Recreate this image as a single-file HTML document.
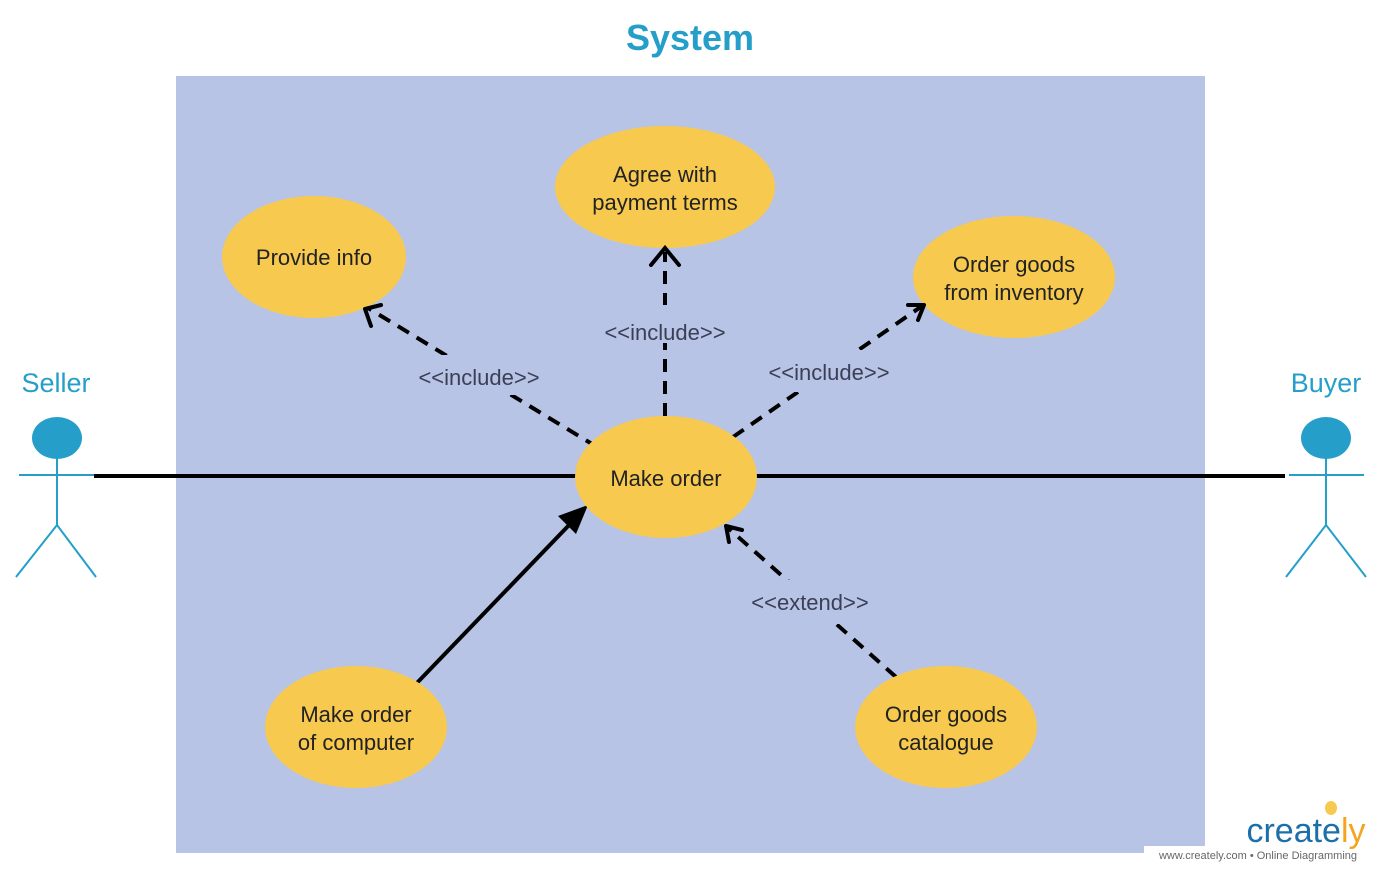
<!DOCTYPE html>
<html><head><meta charset="utf-8"><style>
html,body{margin:0;padding:0;background:#fff;}
svg{display:block;}
text{font-family:"Liberation Sans",sans-serif;}
</style></head><body>
<svg width="1380" height="871" viewBox="0 0 1380 871" xmlns="http://www.w3.org/2000/svg">
<rect width="1380" height="871" fill="#fff"/>
<text x="690" y="50" text-anchor="middle" font-size="36" font-weight="bold" fill="#259fca">System</text>
<rect x="176" y="76" width="1029" height="777" fill="#b8c4e6"/>
<rect x="1144" y="846" width="236" height="25" fill="#fff"/>

<g stroke="#000" stroke-width="4" fill="none">
<line x1="94" y1="476" x2="580" y2="476"/>
<line x1="750" y1="476" x2="1285" y2="476"/>
<line x1="414" y1="686" x2="572" y2="522"/>
<g stroke-dasharray="13,9">
<line x1="665" y1="416" x2="665" y2="252"/>
<line x1="597" y1="447" x2="368" y2="308"/>
<line x1="733" y1="437" x2="922" y2="306"/>
<line x1="896" y1="677" x2="727" y2="527"/>
</g>
</g>
<polygon points="588,505 558,516 576,534" fill="#000"/>

<g fill="#f7c94f">
<ellipse cx="665" cy="187" rx="110" ry="61"/>
<ellipse cx="314" cy="257" rx="92" ry="61"/>
<ellipse cx="1014" cy="277" rx="101" ry="61"/>
<ellipse cx="666" cy="477" rx="91" ry="61"/>
<ellipse cx="356" cy="727" rx="91" ry="61"/>
<ellipse cx="946" cy="727" rx="91" ry="61"/>
</g>

<g stroke="#000" stroke-width="4" fill="none" stroke-linecap="round">
<path d="M651,265 Q665,248 665,248 Q665,248 679,265"/>
<path d="M365,309 L381,305 M365,309 L371,326" />
<path d="M924,305 L908,305 M924,305 L918,320"/>
<path d="M726,526 L742,530 M726,526 L729,542"/>
</g>

<g fill="#b8c4e6">
<rect x="598" y="305" width="134" height="38"/>
<rect x="412" y="355" width="134" height="40"/>
<rect x="762" y="350" width="134" height="42"/>
<rect x="745" y="580" width="130" height="44"/>
</g>
<g font-size="22" fill="#3b3f55" text-anchor="middle">
<text x="665" y="340">&lt;&lt;include&gt;&gt;</text>
<text x="479" y="385">&lt;&lt;include&gt;&gt;</text>
<text x="829" y="380">&lt;&lt;include&gt;&gt;</text>
<text x="810" y="610">&lt;&lt;extend&gt;&gt;</text>
</g>

<g font-size="22" fill="#222" text-anchor="middle">
<text x="665" y="182">Agree with</text>
<text x="665" y="210">payment terms</text>
<text x="314" y="265">Provide info</text>
<text x="1014" y="272">Order goods</text>
<text x="1014" y="300">from inventory</text>
<text x="666" y="486">Make order</text>
<text x="356" y="722">Make order</text>
<text x="356" y="750">of computer</text>
<text x="946" y="722">Order goods</text>
<text x="946" y="750">catalogue</text>
</g>

<g stroke="#259fca" stroke-width="2" fill="none">
<line x1="19" y1="475" x2="94" y2="475"/>
<line x1="57" y1="458" x2="57" y2="525"/>
<polyline points="16,577 57,525 96,577"/>
<line x1="1289" y1="475" x2="1364" y2="475"/>
<line x1="1326" y1="458" x2="1326" y2="525"/>
<polyline points="1286,577 1326,525 1366,577"/>
</g>
<ellipse cx="57" cy="438" rx="25" ry="21" fill="#259fca"/>
<ellipse cx="1326" cy="438" rx="25" ry="21" fill="#259fca"/>
<text x="56" y="392" text-anchor="middle" font-size="27" fill="#259fca">Seller</text>
<text x="1326" y="392" text-anchor="middle" font-size="27" fill="#259fca">Buyer</text>

<text x="1306" y="842" text-anchor="middle" font-size="34" fill="#1d6fa9">create<tspan fill="#f3a51f">ly</tspan></text>
<ellipse cx="1331" cy="808" rx="6" ry="7" fill="#f7c94f"/>
<text x="1258" y="859" text-anchor="middle" font-size="11" fill="#666">www.creately.com • Online Diagramming</text>
</svg>
</body></html>
